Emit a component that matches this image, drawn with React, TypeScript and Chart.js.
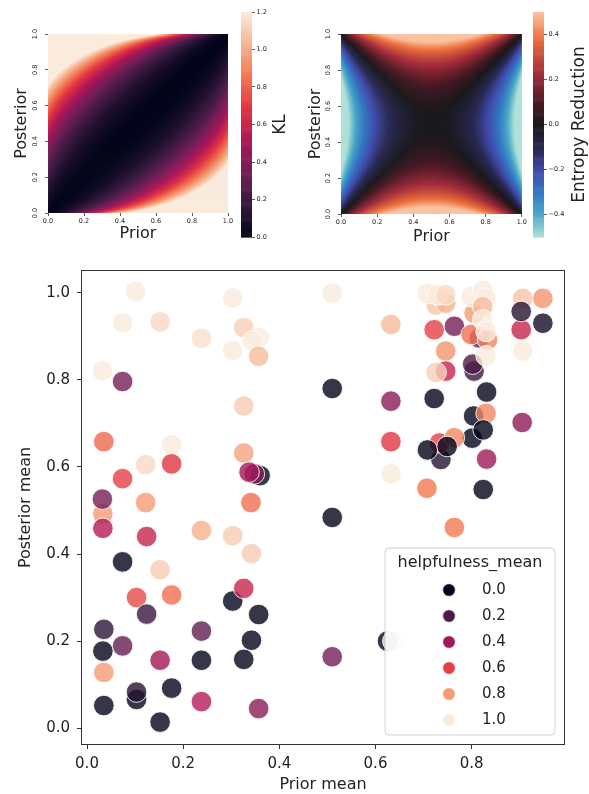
import React, { useEffect, useRef } from 'react';
import { Chart, registerables } from 'chart.js';

Chart.register(...registerables);

const FONT = "'DejaVu Sans', 'Liberation Sans', sans-serif";
const TEXT = '#222222';

// ---------------- heatmap definitions ----------------
const HEAT_TICKS = [0, 0.2, 0.4, 0.6, 0.8, 1.0];
const KL_TICKS = [0, 0.2, 0.4, 0.6, 0.8, 1.0, 1.2];
const ER_TICKS = [-0.4, -0.2, 0, 0.2, 0.4];
const KL_RANGE = [0, 1.2];
const ER_RANGE = [-0.5, 0.5];
// grid of prior / posterior probabilities on which the two quantities are evaluated
const GRID_N = 180;
const GRID_VALUES = Array.from({ length: GRID_N }, (_, i) => 0.01 + (0.98 * i) / (GRID_N - 1));

// KL(prior || posterior) for Bernoulli distributions
const klDiv = (p: number, q: number) => p * Math.log(p / q) + (1 - p) * Math.log((1 - p) / (1 - q));
// binary entropy (nats)
const entropy = (p: number) => -(p * Math.log(p) + (1 - p) * Math.log(1 - p));

// ---------------- scatter data ----------------
const priorMean = [
  0.101, 0.074, 0.152, 0.238, 0.303, 0.326, 0.358, 0.344, 0.303, 0.357,
  0.032, 0.074, 0.326, 0.035, 0.176, 0.326, 0.122, 0.176, 0.074, 0.360,
  0.348, 0.337, 0.033, 0.032, 0.033, 0.122, 0.341, 0.124, 0.238, 0.303,
  0.342, 0.074, 0.152, 0.103, 0.176, 0.124, 0.303, 0.326, 0.357, 0.035,
  0.074, 0.033, 0.035, 0.238, 0.152, 0.238, 0.342, 0.326, 0.103, 0.103,
  0.176, 0.035, 0.152, 0.238, 0.357, 0.510, 0.510, 0.625, 0.636,
  0.510, 0.632, 0.510, 0.632, 0.632, 0.632, 0.707, 0.764, 0.722, 0.831,
  0.905, 0.831, 0.824, 0.804, 0.830, 0.801, 0.824, 0.736, 0.733, 0.764,
  0.708, 0.749, 0.722, 0.764, 0.746, 0.746, 0.726, 0.805, 0.802, 0.816,
  0.799, 0.833, 0.830, 0.805, 0.726, 0.746, 0.708, 0.729, 0.746, 0.799,
  0.823, 0.830, 0.823, 0.823, 0.830, 0.906, 0.948, 0.903, 0.903, 0.948,
  0.906,
];
const posteriorMean = [
  1.003, 0.931, 0.933, 0.895, 0.988, 0.920, 0.897, 0.889, 0.867, 0.854,
  0.821, 0.796, 0.740, 0.658, 0.651, 0.632, 0.605, 0.607, 0.573, 0.580,
  0.584, 0.588, 0.492, 0.526, 0.459, 0.518, 0.518, 0.440, 0.454, 0.442,
  0.401, 0.382, 0.364, 0.300, 0.306, 0.262, 0.292, 0.321, 0.261, 0.227,
  0.189, 0.177, 0.128, 0.223, 0.156, 0.156, 0.202, 0.158, 0.066, 0.083,
  0.092, 0.052, 0.014, 0.061, 0.045, 0.484, 0.164, 0.200, 0.200,
  0.999, 0.927, 0.780, 0.751, 0.658, 0.584, 0.551, 0.461, 0.757, 0.772,
  0.702, 0.618, 0.548, 0.717, 0.723, 0.666, 0.685, 0.617, 0.655, 0.667,
  0.639, 0.647, 0.915, 0.923, 0.866, 0.820, 0.817, 0.820, 0.836, 0.896,
  0.904, 0.892, 0.855, 0.953, 0.972, 0.976, 0.998, 0.995, 0.995, 0.991,
  1.006, 0.987, 0.968, 0.938, 0.911, 0.987, 0.987, 0.915, 0.957, 0.930,
  0.866,
];
const helpfulnessMean = [
  1.0, 1.0, 0.95, 0.97, 1.0, 0.93, 1.0, 1.0, 1.0, 0.88,
  1.0, 0.3, 0.92, 0.68, 1.0, 0.82, 0.95, 0.57, 0.6, 0.0,
  0.33, 0.4, 0.8, 0.3, 0.45, 0.8, 0.7, 0.5, 0.85, 0.92,
  0.92, 0.0, 0.92, 0.62, 0.7, 0.15, 0.0, 0.5, 0.0, 0.12,
  0.25, 0.0, 0.8, 0.25, 0.4, 0.0, 0.0, 0.0, 0.0, 0.1,
  0.0, 0.0, 0.0, 0.45, 0.35, 0.0, 0.3, 0.0, 1.0,
  1.0, 0.88, 0.0, 0.35, 0.57, 1.0, 0.72, 0.72, 0.0, 0.0,
  0.35, 0.4, 0.0, 0.0, 0.75, 0.0, 0.0, 0.1, 0.6, 0.75,
  0.0, 0.0, 0.6, 0.3, 0.78, 0.5, 0.93, 0.15, 0.2, 0.25,
  0.7, 0.75, 1.0, 0.8, 0.9, 0.85, 1.0, 1.0, 0.95, 1.0,
  1.0, 1.0, 0.88, 1.0, 1.0, 0.9, 0.78, 0.5, 0.1, 0.05,
  1.0,
];
const SCATTER_X_TICKS = [0, 0.2, 0.4, 0.6, 0.8];
const SCATTER_Y_TICKS = [0, 0.2, 0.4, 0.6, 0.8, 1.0];
const LEGEND_LEVELS = [0, 0.2, 0.4, 0.6, 0.8, 1.0];
const LEGEND_TITLE = 'helpfulness_mean';

// ---------------- colour maps ----------------
type Stop = [number, [number, number, number]];
const ROCKET: Stop[] = [
  [0, [3, 5, 26]],
  [1 / 7, [53, 25, 62]],
  [2 / 7, [112, 31, 87]],
  [3 / 7, [173, 23, 89]],
  [4 / 7, [225, 51, 66]],
  [5 / 7, [243, 118, 81]],
  [6 / 7, [246, 180, 143]],
  [1, [250, 235, 221]],
];
const ICEFIRE: Stop[] = [
  [0, [175, 225, 215]],
  [0.11, [70, 165, 200]],
  [0.2, [52, 120, 196]],
  [0.3, [65, 75, 170]],
  [0.39, [42, 42, 85]],
  [0.5, [27, 26, 29]],
  [0.59, [72, 26, 36]],
  [0.73, [165, 45, 60]],
  [0.88, [235, 110, 60]],
  [1, [250, 195, 160]],
];

function cmap(stops: Stop[], t: number, alpha = 1): string {
  const tt = Math.max(0, Math.min(1, t));
  let i = 0;
  while (i < stops.length - 2 && tt > stops[i + 1][0]) i++;
  const [t0, c0] = stops[i];
  const [t1, c1] = stops[i + 1];
  const f = t1 === t0 ? 0 : (tt - t0) / (t1 - t0);
  const c = c0.map((v, k) => Math.round(v + (c1[k] - v) * f));
  return `rgba(${c[0]},${c[1]},${c[2]},${alpha})`;
}

const fmt = (v: number) => (Math.abs(v) < 1e-9 ? 0 : v).toFixed(1).replace('-', '\u2212');

// ---------------- chart builders ----------------
function heatmapChart(
  canvas: HTMLCanvasElement,
  fn: (p: number, q: number) => number,
  stops: Stop[],
  range: number[],
  o: { yWidth: number; xHeight: number; padRight: number; yTitlePad: number; xTitlePad: number }
) {
  const n = GRID_VALUES.length;
  const cells: string[][] = GRID_VALUES.map((p) =>
    GRID_VALUES.map((q) => cmap(stops, (fn(p, q) - range[0]) / (range[1] - range[0])))
  );
  const cellPlugin = {
    id: 'cells',
    beforeDatasetsDraw(chart: any) {
      const { ctx, chartArea, scales } = chart;
      const xs = scales.x;
      const ys = scales.y;
      ctx.save();
      ctx.beginPath();
      ctx.rect(chartArea.left, chartArea.top, chartArea.right - chartArea.left, chartArea.bottom - chartArea.top);
      ctx.clip();
      for (let i = 0; i < n; i++) {
        const x0 = xs.getPixelForValue(i / n);
        const x1 = xs.getPixelForValue((i + 1) / n);
        for (let j = 0; j < n; j++) {
          const y0 = ys.getPixelForValue((j + 1) / n);
          const y1 = ys.getPixelForValue(j / n);
          ctx.fillStyle = cells[i][j];
          ctx.fillRect(x0, y0, x1 - x0 + 0.6, y1 - y0 + 0.6);
        }
      }
      ctx.restore();
    },
    afterDraw(chart: any) {
      const { ctx, chartArea, scales } = chart;
      const ys = scales.y;
      ctx.save();
      ctx.fillStyle = TEXT;
      ctx.font = `6.5px ${FONT}`;
      ctx.textAlign = 'center';
      ctx.textBaseline = 'middle';
      for (const t of ys.ticks) {
        ctx.save();
        ctx.translate(chartArea.left - 12.5, ys.getPixelForValue(t.value));
        ctx.rotate(-Math.PI / 2);
        ctx.fillText(fmt(t.value), 0, 0);
        ctx.restore();
      }
      ctx.restore();
    },
  };
  const tickFont = { family: FONT, size: 6.5 };
  const grid = { display: true, drawOnChartArea: false, drawTicks: true, tickLength: 3, color: '#333', lineWidth: 0.8 };
  return new Chart(canvas, {
    type: 'scatter',
    data: { datasets: [] },
    options: {
      responsive: false,
      animation: false,
      devicePixelRatio: 1,
      events: [],
      layout: { padding: { top: 34, right: o.padRight, left: 0, bottom: 0 } },
      plugins: { legend: { display: false }, tooltip: { enabled: false } },
      scales: {
        x: {
          type: 'linear',
          min: 0,
          max: 1,
          afterBuildTicks: (s: any) => { s.ticks = HEAT_TICKS.map((v) => ({ value: v })); },
          afterFit: (s: any) => { s.height = o.xHeight; },
          ticks: { font: tickFont, color: TEXT, padding: 1, maxRotation: 0, autoSkip: false, callback: (v: any) => fmt(Number(v)) },
          grid,
          border: { display: false },
          title: { display: true, text: 'Prior', color: TEXT, font: { family: FONT, size: 16 }, padding: { top: 0, bottom: o.xTitlePad } },
        },
        y: {
          type: 'linear',
          min: 0,
          max: 1,
          afterBuildTicks: (s: any) => { s.ticks = HEAT_TICKS.map((v) => ({ value: v })); },
          afterFit: (s: any) => { s.width = o.yWidth; },
          ticks: { display: false },
          grid,
          border: { display: false },
          title: { display: true, text: 'Posterior', color: TEXT, font: { family: FONT, size: 16 }, padding: { top: o.yTitlePad, bottom: 0 } },
        },
      },
    } as any,
    plugins: [cellPlugin],
  });
}

function colorbarChart(
  canvas: HTMLCanvasElement,
  stops: Stop[],
  range: number[],
  ticks: number[],
  label: string,
  o: { padLeft: number; axisWidth: number; labelOffset: number }
) {
  const barPlugin = {
    id: 'bar',
    beforeDatasetsDraw(chart: any) {
      const { ctx, chartArea, scales } = chart;
      const ys = scales.y;
      const steps = 240;
      ctx.save();
      for (let k = 0; k < steps; k++) {
        const v0 = range[0] + ((range[1] - range[0]) * k) / steps;
        const v1 = range[0] + ((range[1] - range[0]) * (k + 1)) / steps;
        const yA = ys.getPixelForValue(v1);
        const yB = ys.getPixelForValue(v0);
        ctx.fillStyle = cmap(stops, (k + 0.5) / steps);
        ctx.fillRect(chartArea.left, yA, chartArea.right - chartArea.left, yB - yA + 0.6);
      }
      ctx.restore();
    },
    afterDraw(chart: any) {
      const { ctx, chartArea } = chart;
      ctx.save();
      ctx.fillStyle = TEXT;
      ctx.font = `17px ${FONT}`;
      ctx.textAlign = 'center';
      ctx.textBaseline = 'middle';
      ctx.translate(chartArea.right + o.labelOffset, (chartArea.top + chartArea.bottom) / 2);
      ctx.rotate(-Math.PI / 2);
      ctx.fillText(label, 0, 0);
      ctx.restore();
    },
  };
  return new Chart(canvas, {
    type: 'scatter',
    data: { datasets: [] },
    options: {
      responsive: false,
      animation: false,
      devicePixelRatio: 1,
      events: [],
      layout: { padding: { top: 12, bottom: 13, left: o.padLeft, right: 0 } },
      plugins: { legend: { display: false }, tooltip: { enabled: false } },
      scales: {
        x: { display: false, min: 0, max: 1 },
        y: {
          type: 'linear',
          position: 'right',
          min: range[0],
          max: range[1],
          afterBuildTicks: (s: any) => { s.ticks = ticks.map((v) => ({ value: v })); },
          afterFit: (s: any) => { s.width = o.axisWidth; },
          ticks: { font: { family: FONT, size: 6.5 }, color: TEXT, padding: 1.5, callback: (v: any) => fmt(Number(v)) },
          grid: { display: true, drawOnChartArea: false, drawTicks: true, tickLength: 3, color: '#333', lineWidth: 0.8 },
          border: { display: false },
        },
      },
    } as any,
    plugins: [barPlugin],
  });
}

function scatterChart(canvas: HTMLCanvasElement) {
  const points = priorMean.map((x, i) => ({ x, y: posteriorMean[i] }));
  const colors = helpfulnessMean.map((h) => cmap(ROCKET, h, 0.8));
  const framePlugin = {
    id: 'frame',
    afterDatasetsDraw(chart: any) {
      const { ctx, chartArea } = chart;
      ctx.save();
      ctx.strokeStyle = '#333';
      ctx.lineWidth = 1;
      ctx.strokeRect(
        Math.round(chartArea.left) - 0.5,
        Math.round(chartArea.top) - 0.5,
        Math.round(chartArea.right - chartArea.left) + 1,
        Math.round(chartArea.bottom - chartArea.top) + 1
      );
      ctx.restore();
    },
    afterDraw(chart: any) {
      const { ctx, chartArea } = chart;
      const w = 170;
      const h = 187;
      const x0 = chartArea.right - 9 - w;
      const y0 = chartArea.bottom - 9 - h;
      ctx.save();
      ctx.beginPath();
      const r = 4;
      ctx.moveTo(x0 + r, y0);
      ctx.arcTo(x0 + w, y0, x0 + w, y0 + h, r);
      ctx.arcTo(x0 + w, y0 + h, x0, y0 + h, r);
      ctx.arcTo(x0, y0 + h, x0, y0, r);
      ctx.arcTo(x0, y0, x0 + w, y0, r);
      ctx.closePath();
      ctx.fillStyle = 'rgba(255,255,255,0.8)';
      ctx.fill();
      ctx.strokeStyle = '#d0d0d0';
      ctx.lineWidth = 1;
      ctx.stroke();
      ctx.fillStyle = TEXT;
      ctx.textBaseline = 'middle';
      ctx.textAlign = 'center';
      ctx.font = `16px ${FONT}`;
      ctx.fillText(LEGEND_TITLE, x0 + w / 2, y0 + 15);
      ctx.font = `15px ${FONT}`;
      LEGEND_LEVELS.forEach((lv, k) => {
        const cy = y0 + 42 + k * 26;
        ctx.beginPath();
        ctx.arc(x0 + 64, cy, 6.3, 0, Math.PI * 2);
        ctx.fillStyle = cmap(ROCKET, lv, 1);
        ctx.fill();
        ctx.strokeStyle = 'rgba(255,255,255,0.9)';
        ctx.lineWidth = 0.8;
        ctx.stroke();
        ctx.fillStyle = TEXT;
        ctx.textAlign = 'left';
        ctx.fillText(fmt(lv), x0 + 97, cy);
      });
      ctx.restore();
    },
  };
  const tickFont = { family: FONT, size: 15 };
  const grid = { display: true, drawOnChartArea: false, drawTicks: true, tickLength: 5, color: '#333', lineWidth: 1 };
  return new Chart(canvas, {
    type: 'scatter',
    data: {
      datasets: [
        {
          data: points,
          backgroundColor: colors,
          borderColor: 'rgba(255,255,255,0.85)',
          borderWidth: 1,
          pointRadius: 10.3,
          pointHoverRadius: 10.3,
        },
      ],
    },
    options: {
      responsive: false,
      animation: false,
      devicePixelRatio: 1,
      events: [],
      layout: { padding: { top: 10, right: 25, left: 0, bottom: 0 } },
      plugins: { legend: { display: false }, tooltip: { enabled: false } },
      scales: {
        x: {
          type: 'linear',
          min: -0.0104,
          max: 0.992,
          afterBuildTicks: (s: any) => { s.ticks = SCATTER_X_TICKS.map((v) => ({ value: v })); },
          afterFit: (s: any) => { s.height = 50; },
          ticks: { font: tickFont, color: TEXT, padding: 6, maxRotation: 0, autoSkip: false, callback: (v: any) => fmt(Number(v)) },
          grid,
          border: { display: false },
          title: { display: true, text: 'Prior mean', color: TEXT, font: { family: FONT, size: 16 }, padding: { top: 0, bottom: 0 } },
        },
        y: {
          type: 'linear',
          min: -0.0363,
          max: 1.0499,
          afterBuildTicks: (s: any) => { s.ticks = SCATTER_Y_TICKS.map((v) => ({ value: v })); },
          afterFit: (s: any) => { s.width = 82; },
          ticks: { font: tickFont, color: TEXT, padding: 7, autoSkip: false, callback: (v: any) => fmt(Number(v)) },
          grid,
          border: { display: false },
          title: { display: true, text: 'Posterior mean', color: TEXT, font: { family: FONT, size: 16 }, padding: { top: 16, bottom: 0 } },
        },
      },
    } as any,
    plugins: [framePlugin],
  });
}

// ---------------- component ----------------
export default function App() {
  const klRef = useRef<HTMLCanvasElement>(null);
  const klBarRef = useRef<HTMLCanvasElement>(null);
  const erRef = useRef<HTMLCanvasElement>(null);
  const erBarRef = useRef<HTMLCanvasElement>(null);
  const scRef = useRef<HTMLCanvasElement>(null);

  useEffect(() => {
    const charts: Chart[] = [];
    if (klRef.current)
      charts.push(heatmapChart(klRef.current, (p, q) => klDiv(p, q), ROCKET, KL_RANGE,
        { yWidth: 48, xHeight: 37, padRight: 7, yTitlePad: 12.5, xTitlePad: 7 }));
    if (klBarRef.current)
      charts.push(colorbarChart(klBarRef.current, ROCKET, KL_RANGE, KL_TICKS, 'KL',
        { padLeft: 6, axisWidth: 38, labelOffset: 29 }));
    if (erRef.current)
      charts.push(heatmapChart(erRef.current, (p, q) => entropy(p) - entropy(q), ICEFIRE, ER_RANGE,
        { yWidth: 51, xHeight: 36, padRight: 6, yTitlePad: 16, xTitlePad: 4 }));
    if (erBarRef.current)
      charts.push(colorbarChart(erBarRef.current, ICEFIRE, ER_RANGE, ER_TICKS, 'Entropy Reduction',
        { padLeft: 5, axisWidth: 45, labelOffset: 36 }));
    if (scRef.current) charts.push(scatterChart(scRef.current));
    return () => charts.forEach((c) => c.destroy());
  }, []);

  const pos = (left: number, top: number, width: number, height: number): React.CSSProperties => ({
    position: 'absolute', left, top, width, height,
  });

  return (
    <div style={{ position: 'absolute', left: 0, top: 0, width: 589, height: 794, background: '#fff', overflow: 'hidden' }}>
      <canvas ref={klRef} width={235} height={250} style={pos(0, 0, 235, 250)} />
      <canvas ref={klBarRef} width={55} height={250} style={pos(235, 0, 55, 250)} />
      <canvas ref={erRef} width={238} height={250} style={pos(290, 0, 238, 250)} />
      <canvas ref={erBarRef} width={61} height={250} style={pos(528, 0, 61, 250)} />
      <canvas ref={scRef} width={589} height={539} style={pos(0, 255, 589, 539)} />
    </div>
  );
}
